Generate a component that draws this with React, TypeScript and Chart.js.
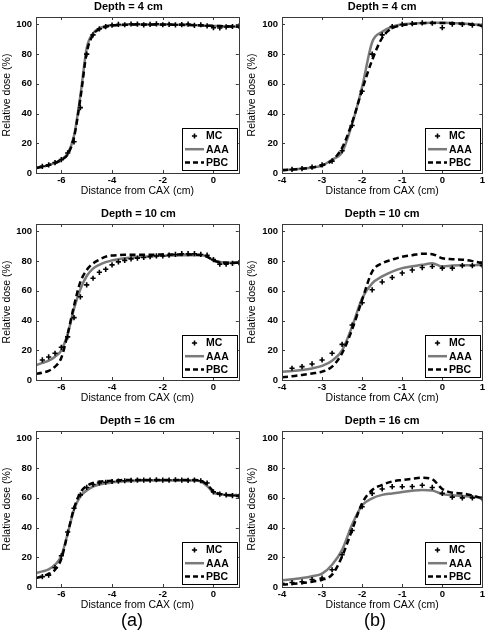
import React, { useEffect, useRef } from "react";
import { Chart, registerables } from "chart.js";
Chart.register(...registerables);

// ---------- data ----------
const X_A = [-7, -6.75, -6.5, -6.25, -6, -5.75, -5.5, -5.25, -5, -4.75, -4.5, -4.25, -4, -3.75, -3.5, -3.25, -3, -2.75, -2.5, -2.25, -2, -1.75, -1.5, -1.25, -1, -0.75, -0.5, -0.25, 0, 0.25, 0.5, 0.75, 1];
const X_B = [-4, -3.75, -3.5, -3.25, -3, -2.75, -2.5, -2.25, -2, -1.75, -1.5, -1.25, -1, -0.75, -0.5, -0.25, 0, 0.25, 0.5, 0.75, 1];

const XTICKS_A = [-6, -4, -2, 0];
const XTICKS_B = [-4, -3, -2, -1, 0, 1];
const YTICKS = [0, 20, 40, 60, 80, 100];

const A4_PBC = [3.5, 4.3, 5.3, 6.7, 8.8, 12.5, 24, 50, 81, 93, 96.8, 98.5, 99.2, 99.6, 99.8, 99.9, 100, 100, 100, 100, 99.9, 99.9, 99.8, 99.7, 99.6, 99.5, 99.3, 99.1, 99, 98.9, 98.7, 98.6, 98.5];
const A4_AAA = [3.3, 4.2, 5.3, 6.8, 9, 13, 25, 52, 84, 94, 97.3, 98.8, 99.3, 99.6, 99.8, 99.9, 100, 100, 100, 100, 99.9, 99.9, 99.8, 99.7, 99.6, 99.5, 99.3, 99.1, 99, 98.9, 98.7, 98.6, 98.5];
const A4_MC = [3.2, 4.5, 5.5, 7, 9, 13.5, 21, 44, 80, 93, 97, 98.5, 99.5, 100, 99.8, 100.3, 100.2, 99.7, 100, 100.4, 99.8, 100.1, 99.7, 99.9, 100.2, 99.4, 99.8, 99, 97.8, 97.6, 98.3, 98.6, 98.8];

const B4_PBC = [2, 2.3, 2.8, 3.7, 5.2, 8.5, 17, 34, 56, 76, 91, 97.5, 99.5, 100.3, 100.8, 101, 101, 100.8, 100.5, 100, 99.3];
const B4_AAA = [2, 2.3, 2.8, 3.7, 5, 9, 14, 33, 58, 88, 95, 98.5, 100, 100.6, 101, 101.2, 101.2, 101, 100.6, 100.2, 99.6];
const B4_MC = [1.8, 2.4, 3, 4, 5.5, 8, 15, 32, 55, 80, 93, 98.5, 100, 100.5, 101, 100.8, 97.8, 100.2, 100, 99.5, 99];

const A10_PBC = [4, 5, 6.2, 9, 15, 31, 50, 66, 74, 78.5, 81, 83, 83.8, 84.1, 84.3, 84.3, 84.3, 84.3, 84.3, 84.4, 84.4, 84.5, 84.5, 84.5, 84.5, 84.4, 84.2, 83, 80.5, 79.3, 79, 79, 79];
const A10_AAA = [10, 11.5, 13, 15.7, 20, 31, 48, 61, 70, 75, 77.5, 79.3, 80.5, 81.3, 82, 82.4, 82.8, 83, 83.3, 83.5, 83.6, 83.7, 83.8, 83.9, 84, 84, 84, 83, 80.5, 79.5, 79, 79, 79];
const A10_MC = [null, 13.5, 15.5, 18, 22, 29, 42, 56, 64, 68.5, 72.5, 74.5, 77.5, 79.5, 80.5, 81.5, 82, 82.5, 83, 83.5, 83.5, 84, 84.5, 85, 85, 85, 84.5, 84, 81, 78, 78, 78.5, 79];

const B10_PBC = [1.8, 2.5, 3.4, 4.4, 5.6, 9, 18, 34, 54, 73, 78.6, 81, 83, 84, 85, 84.7, 82, 81.3, 81, 80, 78.6];
const B10_AAA = [5.6, 6, 6.7, 7.8, 9.5, 13, 20, 36, 55, 65, 69.7, 73, 75.3, 76.5, 77.5, 78.6, 76.4, 77, 77.2, 77.3, 77.5];
const B10_MC = [null, 7.9, 9, 10.8, 13.5, 18, 24, 37, 52, 60.7, 66, 69, 72, 74, 75.7, 76.4, 75.3, 75.3, 77, 77, 77];

const A16_PBC = [6, 7.2, 8.8, 11.6, 19, 36, 53, 63.5, 68, 70, 70.8, 71.3, 71.6, 71.8, 72, 72, 72, 72, 72, 72, 72, 72, 72, 72, 72, 72, 71.5, 69, 64.5, 62.7, 62, 61.7, 61.3];
const A16_AAA = [9.4, 10.5, 11.8, 15, 21, 36, 52, 61, 65, 67.6, 69, 69.8, 70.4, 70.8, 71.1, 71.3, 71.5, 71.6, 71.6, 71.7, 71.7, 71.7, 71.7, 71.7, 71.6, 71.6, 71, 68, 63.5, 62.5, 62, 62, 61.8];
const A16_MC = [null, 7, 8, 13, 21, 37, 53, 62, 67, 69, 70, 70.5, 71, 71.3, 71.5, 71.8, 72, 72, 72, 72.2, 72, 72, 72.2, 72, 71.8, 72, 71.5, 70, 64, 62.5, 62, 61.5, 61];

const B16_PBC = [1.6, 2.1, 2.7, 3.6, 4.9, 8.3, 20.6, 38.5, 56.4, 65.3, 68.7, 71, 72, 72.8, 73.6, 72.5, 66, 63.5, 63, 61.5, 59.7];
const B16_AAA = [4.5, 5.2, 6, 7.2, 9, 15, 25, 42, 55, 59.7, 62, 63, 64, 64.8, 65.3, 65, 62.5, 61.8, 61.3, 60.8, 60];
const B16_MC = [2.5, 3, 3.5, 5, 6, 11.6, 21.7, 38, 54, 63, 66, 67.5, 67.5, 67.6, 68.5, 67, 63, 60.5, 60, 60, 59.5];

const TITLES = ["Depth = 4 cm", "Depth = 10 cm", "Depth = 16 cm"];
const X_LABEL = "Distance from CAX (cm)";
const Y_LABEL = "Relative dose (%)";
const SERIES_NAMES = ["MC", "AAA", "PBC"];

// ---------- styling ----------
const FONT = "'Liberation Sans', Arial, Helvetica, sans-serif";
const AAA_COLOR = "#7a7a7a";
const FRAME_COLOR = "#3a3a3a";
const CANVAS_H = 200;

type Panel = {
  left: number; top: number; width: number;
  x: number[]; xMin: number; xMax: number; xTicks: number[];
  yAxisW: number; yTitlePad: number;
  title: string; titleDx: number;
  mc: (number | null)[]; aaa: number[]; pbc: number[];
};

const PANELS: Panel[] = [
  { left: 0, top: 0, width: 243, x: X_A, xMin: -7, xMax: 1, xTicks: XTICKS_A, yAxisW: 36, yTitlePad: 1, title: TITLES[0], titleDx: -9, mc: A4_MC, aaa: A4_AAA, pbc: A4_PBC },
  { left: 243, top: 0, width: 244, x: X_B, xMin: -4, xMax: 1, xTicks: XTICKS_B, yAxisW: 39, yTitlePad: 3, title: TITLES[0], titleDx: 0, mc: B4_MC, aaa: B4_AAA, pbc: B4_PBC },
  { left: 0, top: 207, width: 243, x: X_A, xMin: -7, xMax: 1, xTicks: XTICKS_A, yAxisW: 36, yTitlePad: 1, title: TITLES[1], titleDx: 1, mc: A10_MC, aaa: A10_AAA, pbc: A10_PBC },
  { left: 243, top: 207, width: 244, x: X_B, xMin: -4, xMax: 1, xTicks: XTICKS_B, yAxisW: 39, yTitlePad: 3, title: TITLES[1], titleDx: 0, mc: B10_MC, aaa: B10_AAA, pbc: B10_PBC },
  { left: 0, top: 414, width: 243, x: X_A, xMin: -7, xMax: 1, xTicks: XTICKS_A, yAxisW: 36, yTitlePad: 1, title: TITLES[2], titleDx: 0, mc: A16_MC, aaa: A16_AAA, pbc: A16_PBC },
  { left: 243, top: 414, width: 244, x: X_B, xMin: -4, xMax: 1, xTicks: XTICKS_B, yAxisW: 39, yTitlePad: 3, title: TITLES[2], titleDx: 0, mc: B16_MC, aaa: B16_AAA, pbc: B16_PBC },
];

function drawCross(ctx: CanvasRenderingContext2D, cx: number, cy: number, r: number) {
  ctx.beginPath();
  ctx.moveTo(cx - r, cy);
  ctx.lineTo(cx + r, cy);
  ctx.moveTo(cx, cy - r);
  ctx.lineTo(cx, cy + r);
  ctx.stroke();
}

function PanelChart({ p }: { p: Panel }) {
  const ref = useRef<HTMLCanvasElement>(null);
  useEffect(() => {
    if (!ref.current) return;
    const toPts = (ys: (number | null)[]) =>
      p.x.map((x, i) => (ys[i] == null ? null : { x, y: ys[i] as number })).filter((d) => d !== null) as { x: number; y: number }[];

    const deco = {
      id: "deco",
      afterDraw(chart: any) {
        const { ctx, chartArea: a, scales } = chart;
        const xs = scales.x;
        const ys = scales.y;
        ctx.save();
        ctx.strokeStyle = FRAME_COLOR;
        ctx.lineWidth = 1;
        ctx.setLineDash([]);
        // inward tick marks
        ctx.beginPath();
        xs.ticks.forEach((t: any) => {
          const px = Math.round(xs.getPixelForValue(t.value)) + 0.5;
          ctx.moveTo(px, a.bottom);
          ctx.lineTo(px, a.bottom - 3);
          ctx.moveTo(px, a.top);
          ctx.lineTo(px, a.top + 3);
        });
        ys.ticks.forEach((t: any) => {
          const py = Math.round(ys.getPixelForValue(t.value)) + 0.5;
          ctx.moveTo(a.left, py);
          ctx.lineTo(a.left + 3, py);
          ctx.moveTo(a.right, py);
          ctx.lineTo(a.right - 3, py);
        });
        ctx.stroke();
        // frame
        ctx.strokeRect(Math.round(a.left) + 0.5, Math.round(a.top) + 0.5, Math.round(a.right) - Math.round(a.left), Math.round(a.bottom) - Math.round(a.top));
        // title
        ctx.fillStyle = "#000";
        ctx.font = `bold 11px ${FONT}`;
        ctx.textAlign = "center";
        ctx.textBaseline = "middle";
        ctx.fillText(p.title, (a.left + a.right) / 2 + p.titleDx, a.top - 10.5);
        // legend
        const bw = 55, bh = 42;
        const bx = Math.round(a.right - 2 - bw);
        const by = Math.round(a.bottom - 3 - bh);
        ctx.fillStyle = "#fff";
        ctx.fillRect(bx, by, bw, bh);
        ctx.strokeStyle = "#000";
        ctx.lineWidth = 1;
        ctx.strokeRect(bx + 0.5, by + 0.5, bw, bh);
        SERIES_NAMES.forEach((name, i) => {
          const cy = by + 8 + i * 13.2;
          const x0 = bx + 3, x1 = bx + 22;
          if (name === "MC") {
            ctx.strokeStyle = "#000";
            ctx.lineWidth = 1.6;
            drawCross(ctx, (x0 + x1) / 2, cy, 2.6);
          } else {
            ctx.strokeStyle = name === "AAA" ? AAA_COLOR : "#000";
            ctx.lineWidth = 2.5;
            ctx.setLineDash(name === "PBC" ? [5, 3] : []);
            ctx.beginPath();
            ctx.moveTo(x0, cy);
            ctx.lineTo(x1, cy);
            ctx.stroke();
            ctx.setLineDash([]);
          }
          ctx.fillStyle = "#000";
          ctx.font = `bold 10.5px ${FONT}`;
          ctx.textAlign = "left";
          ctx.textBaseline = "middle";
          ctx.fillText(name, bx + 24, cy + 0.5);
        });
        ctx.restore();
      },
    };

    const tickFont = { family: FONT, size: 9.5, weight: "bold" as const };
    const titleFont = { family: FONT, size: 10.5 };

    const chart = new Chart(ref.current, {
      type: "scatter",
      data: {
        datasets: [
          {
            label: "MC",
            data: toPts(p.mc),
            showLine: false,
            pointStyle: "cross",
            pointRadius: 2.6,
            pointHoverRadius: 2.6,
            pointBorderWidth: 1.6,
            borderColor: "#000",
            backgroundColor: "#000",
          },
          {
            label: "PBC",
            data: toPts(p.pbc),
            showLine: true,
            borderColor: "#000",
            backgroundColor: "#000",
            borderWidth: 2.5,
            borderDash: [6, 3.5],
            pointRadius: 0,
            cubicInterpolationMode: "monotone",
          },
          {
            label: "AAA",
            data: toPts(p.aaa),
            showLine: true,
            borderColor: AAA_COLOR,
            backgroundColor: AAA_COLOR,
            borderWidth: 2.5,
            pointRadius: 0,
            cubicInterpolationMode: "monotone",
          },
        ],
      },
      options: {
        animation: false,
        responsive: false,
        events: [],
        layout: { padding: { top: 17, right: 4, left: 0, bottom: 0 } },
        plugins: { legend: { display: false }, tooltip: { enabled: false }, title: { display: false } },
        scales: {
          x: {
            type: "linear",
            min: p.xMin,
            max: p.xMax,
            grid: { display: false, drawTicks: false },
            border: { display: false },
            afterBuildTicks: (s: any) => {
              s.ticks = p.xTicks.map((v) => ({ value: v }));
            },
            ticks: { padding: 2, color: "#000", font: tickFont, autoSkip: false, maxRotation: 0 },
            title: { display: true, text: X_LABEL, color: "#000", font: titleFont, padding: { top: 0, bottom: 2.7 } },
            afterFit: (s: any) => {
              s.height = 27;
            },
          },
          y: {
            type: "linear",
            min: 0,
            max: 105,
            grid: { display: false, drawTicks: false },
            border: { display: false },
            afterBuildTicks: (s: any) => {
              s.ticks = YTICKS.map((v) => ({ value: v }));
            },
            ticks: { padding: 4, color: "#000", font: tickFont, autoSkip: false },
            title: { display: true, text: Y_LABEL, color: "#000", font: titleFont, padding: { top: p.yTitlePad, bottom: 0 } },
            afterFit: (s: any) => {
              s.width = p.yAxisW;
            },
          },
        },
      } as any,
      plugins: [deco],
    });
    return () => chart.destroy();
  }, [p]);
  return (
    <canvas
      ref={ref}
      width={p.width}
      height={CANVAS_H}
      style={{ position: "absolute", left: p.left, top: p.top, width: p.width, height: CANVAS_H }}
    />
  );
}

export default function App() {
  const labelStyle: React.CSSProperties = {
    position: "absolute",
    top: 620,
    transform: "translate(-50%, -50%)",
    fontFamily: FONT,
    fontSize: 18,
    color: "#000",
    lineHeight: 1,
    whiteSpace: "nowrap",
  };
  return (
    <div style={{ position: "absolute", left: 0, top: 0, width: 487, height: 632, background: "#fff", overflow: "hidden" }}>
      {PANELS.map((p, i) => (
        <PanelChart key={i} p={p} />
      ))}
      <div style={{ ...labelStyle, left: 132 }}>(a)</div>
      <div style={{ ...labelStyle, left: 375 }}>(b)</div>
    </div>
  );
}
